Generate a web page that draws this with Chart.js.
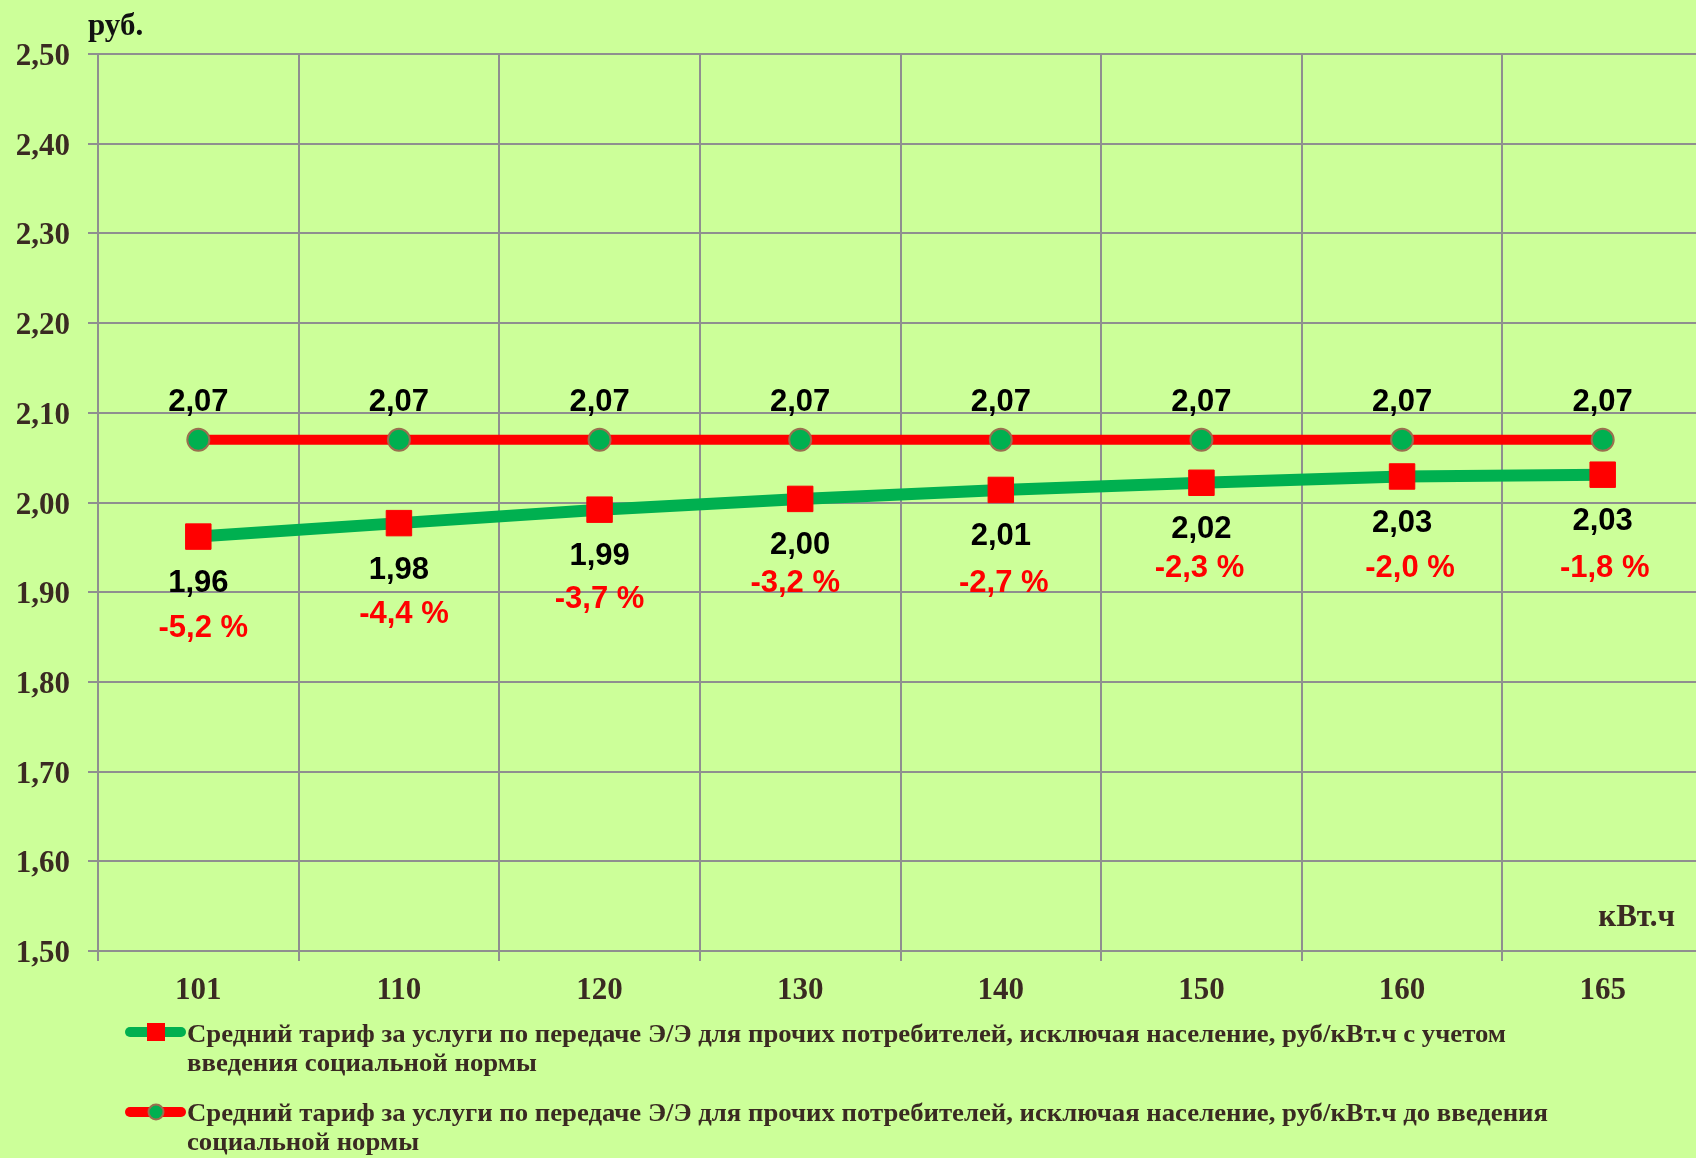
<!DOCTYPE html>
<html>
<head>
<meta charset="utf-8">
<script src="https://cdn.jsdelivr.net/npm/chart.js@4.4.0/dist/chart.umd.min.js"></script>
<style>
    html, body { margin: 0; padding: 0; background: #ccff99; overflow: hidden; width: 1696px; height: 1158px; }
    canvas { display: block; }
</style>
</head>
<body>
<canvas id="tarifGrafik" width="1722" height="1158"></canvas>
<script>
// данные графика
var kategorii = ["101", "110", "120", "130", "140", "150", "160", "165"];
var tarifSNormoy = [1.962, 1.977, 1.992, 2.004, 2.014, 2.022, 2.029, 2.031];
var tarifDoNormy = [2.07, 2.07, 2.07, 2.07, 2.07, 2.07, 2.07, 2.07];
var izmeneniePct = [-5.2, -4.4, -3.7, -3.2, -2.7, -2.3, -2.0, -1.8];
var osY = { min: 1.5, max: 2.5, shag: 0.1 };
var legendaStroki = [
    ["Средний тариф за услуги по передаче Э/Э для прочих потребителей, исключая население, руб/кВт.ч с учетом",
     "введения социальной нормы"],
    ["Средний тариф за услуги по передаче Э/Э для прочих потребителей, исключая население, руб/кВт.ч до введения",
     "социальной нормы"]
];

var SERIF = "'Liberation Serif', 'Times New Roman', serif";
var SANS = "'Liberation Sans', Arial, sans-serif";
var ZELENYY = "#00b050";
var KRASNYY = "#ff0000";
var KORICH = "#3a2a22";
var SETKA = "#8f8f8f";

function zapyataya(v, n) {
    return v.toFixed(n).replace(".", ",");
}

// сдвиги подписей процентов (расставлены вручную, как на исходнике)
var sdvigPct = [[5, 92], [5, 91], [0, 90], [-5, 85], [3, 94], [-2, 86], [8, 92], [2, 94]];

var podpisi = {
    id: "podpisi",
    afterDatasetsDraw: function (chart) {
        var ctx = chart.ctx;
        var zel = chart.getDatasetMeta(0).data;
        var kras = chart.getDatasetMeta(1).data;
        ctx.save();
        ctx.font = "bold 31px " + SANS;
        ctx.textAlign = "center";
        ctx.textBaseline = "middle";
        kras.forEach(function (p, i) {
            ctx.fillStyle = "#000";
            ctx.fillText(zapyataya(tarifDoNormy[i], 2), p.x, p.y - 37);
        });
        zel.forEach(function (p, i) {
            ctx.fillStyle = "#000";
            ctx.fillText(zapyataya(tarifSNormoy[i], 2), p.x, p.y + 47);
            ctx.fillStyle = KRASNYY;
            ctx.fillText(zapyataya(izmeneniePct[i], 1) + " %", p.x + sdvigPct[i][0], p.y + sdvigPct[i][1]);
        });
        ctx.restore();
    },
    afterDraw: function (chart) {
        var ctx = chart.ctx;
        ctx.save();
        // подписи осей
        ctx.font = "bold 31px " + SERIF;
        ctx.textBaseline = "alphabetic";
        ctx.fillStyle = "#111";
        ctx.textAlign = "left";
        ctx.fillText("руб.", 88, 35);
        ctx.fillStyle = KORICH;
        ctx.textAlign = "right";
        ctx.fillText("кВт.ч", 1675, 926);

        // легенда
        ctx.font = "bold 26px " + SERIF;
        ctx.textAlign = "left";
        var sx = 1319 / ctx.measureText(legendaStroki[0][0]).width;
        var bazy = [[1042, 1071], [1121, 1150]];
        legendaStroki.forEach(function (stroki, k) {
            stroki.forEach(function (s, j) {
                ctx.save();
                ctx.translate(187, bazy[k][j]);
                ctx.scale(sx, 1);
                ctx.fillStyle = KORICH;
                ctx.fillText(s, 0, 0);
                ctx.restore();
            });
        });
        // значки легенды
        ctx.lineCap = "round";
        ctx.lineWidth = 10;
        ctx.strokeStyle = ZELENYY;
        ctx.beginPath(); ctx.moveTo(130, 1032); ctx.lineTo(181, 1032); ctx.stroke();
        ctx.fillStyle = KRASNYY;
        ctx.fillRect(147, 1023, 18, 18);
        ctx.strokeStyle = KRASNYY;
        ctx.beginPath(); ctx.moveTo(130, 1112); ctx.lineTo(181, 1112); ctx.stroke();
        ctx.beginPath();
        ctx.arc(156, 1112, 7.5, 0, Math.PI * 2);
        ctx.fillStyle = ZELENYY;
        ctx.fill();
        ctx.lineWidth = 2;
        ctx.strokeStyle = "#9a6f4f";
        ctx.stroke();
        ctx.restore();
    }
};

var ctx = document.getElementById("tarifGrafik").getContext("2d");
var grafik = new Chart(ctx, {
    type: "line",
    data: {
        labels: kategorii,
        datasets: [
            {
                label: legendaStroki[0].join(" "),
                data: tarifSNormoy,
                borderColor: ZELENYY,
                borderWidth: 12,
                pointStyle: "rect",
                pointRadius: 18,
                pointBackgroundColor: KRASNYY,
                pointBorderColor: KRASNYY,
                pointBorderWidth: 1,
                tension: 0
            },
            {
                label: legendaStroki[1].join(" "),
                data: tarifDoNormy,
                borderColor: KRASNYY,
                borderWidth: 10,
                pointStyle: "circle",
                pointRadius: 11,
                pointBackgroundColor: ZELENYY,
                pointBorderColor: "#9a6f4f",
                pointBorderWidth: 2,
                tension: 0
            }
        ]
    },
    options: {
        responsive: false,
        animation: false,
        devicePixelRatio: 1,
        layout: { padding: { left: 0, top: 54, right: 9, bottom: 127 } },
        plugins: {
            legend: { display: false },
            tooltip: { enabled: false }
        },
        scales: {
            x: {
                type: "category",
                offset: true,
                grid: { offset: true, color: SETKA, lineWidth: 2, tickLength: 10 },
                border: { color: SETKA, width: 2 },
                ticks: { color: KORICH, padding: 11, font: { family: SERIF, size: 31, weight: "bold" } },
                afterFit: function (axis) {
                    axis.height = 80;
                    axis.paddingLeft = 0;
                    axis.paddingRight = 0;
                }
            },
            y: {
                min: osY.min,
                max: osY.max,
                grid: { color: SETKA, lineWidth: 2, tickLength: 10 },
                border: { color: SETKA, width: 2 },
                ticks: {
                    stepSize: osY.shag,
                    color: KORICH,
                    padding: 18,
                    labelOffset: 3,
                    font: { family: SERIF, size: 31, weight: "bold" },
                    callback: function (v) { return zapyataya(v, 2); }
                },
                afterFit: function (axis) { axis.width = 98; }
            }
        }
    },
    plugins: [podpisi]
});
</script>
</body>
</html>
